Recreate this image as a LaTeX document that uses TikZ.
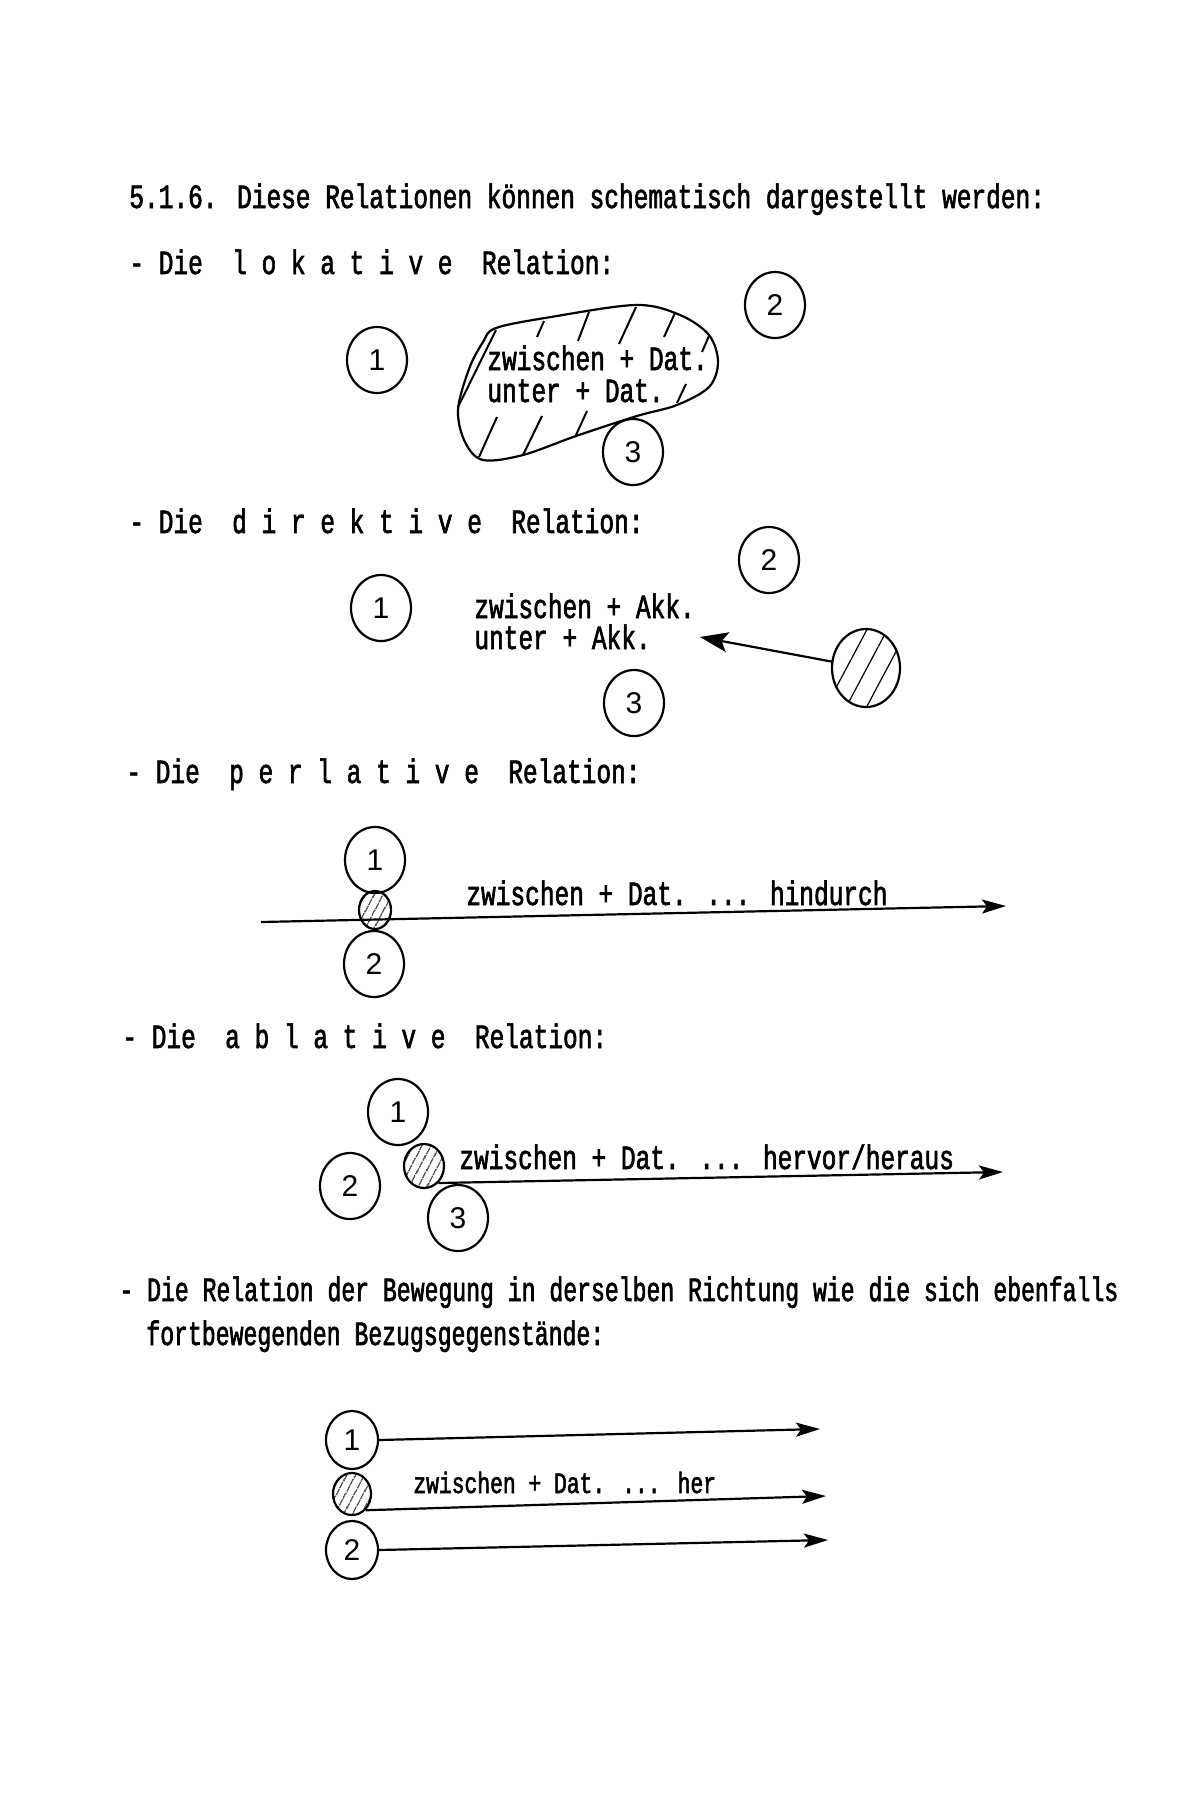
\documentclass[tikz,border=0pt]{standalone}
\usepackage{fontspec}
\setmainfont[FakeStretch=0.72,FakeBold=1.8]{Liberation Mono}
\newfontfamily\narrowtype[FakeStretch=0.68,FakeBold=1.8]{Liberation Mono}
\newfontfamily\handdigits{Liberation Sans}
\usetikzlibrary{shapes.geometric,arrows.meta,patterns.meta}

\tikzset{
  numcircle/.style={ellipse, draw, line width=1.1pt, minimum width=30pt, minimum height=33pt, inner sep=0pt, font=\handdigits\fontsize{15}{15}\selectfont},
  hatchdot/.style={ellipse, draw, line width=1.1pt, inner sep=0pt, pattern={Lines[angle=62,distance=#1,line width=0.6pt]}},
  hatchdot/.default=4.5pt,
  typetext/.style={anchor=base west, inner sep=0pt, font=\fontsize{17}{17}\selectfont},
  movearrow/.style={line width=1.1pt, -{Stealth[length=12pt,width=7pt,inset=2.5pt]}},
  hatchstroke/.style={line width=1pt},
}

\begin{document}
\begin{tikzpicture}[x=0.5pt,y=0.5pt,yscale=-1,xscale=1]
        %Shape: Rectangle (page)
        \fill [white] (0,0) rectangle (1200,1800);

        % Text Node
        \node (title) at (129,208) [typetext] {5.1.6. Diese Relationen können schematisch dargestellt werden:};

        % Text Node
        \node (lokhead) at (129,274) [typetext] {- Die~ l o k a t i v e~ Relation:};
        %Shape: Circle
        \node (lok1) at (377,360) [numcircle] {1};
        \node (lok2) at (775,305) [numcircle] {2};
        \node (lok3) at (633,452) [numcircle] {3};
        %Shape: Free Drawing
        \draw [line width=1.1pt] plot [smooth cycle, tension=0.55] coordinates {(496,328) (551,317) (636,305) (680,315) (709,335) (718,362) (709,387) (677,405) (637,416) (576,436) (523,455) (483,460) (465,442) (458,410) (469,369) (483,342)};
        %Straight Lines
        \foreach \xa/\ya/\xb/\yb in {537/337/544/321, 578/341/589/312, 619/344/636/307, 664/337/675/313, 702/352/709/336, 677/403/686/384, 479/457/497/417, 523/455/542/416, 576/435/587/411, 458/407/496/330}
          \draw [hatchstroke] (\xa,\ya) -- (\xb,\yb);
        % Text Node
        \node (lokzw) at (487,370) [typetext] {zwischen + Dat.};
        \node (lokun) at (487,402) [typetext] {unter + Dat.};

        % Text Node
        \node (dirhead) at (129,533) [typetext] {- Die~ d i r e k t i v e~ Relation:};
        %Shape: Circle
        \node (dir1) at (381,608) [numcircle] {1};
        \node (dir2) at (769,560) [numcircle] {2};
        \node (dir3) at (634,703) [numcircle] {3};
        \node (dirobj) at (866,668) [hatchdot=9pt, minimum width=34pt, minimum height=39pt] {};
        % Text Node
        \node (dirzw) at (474,618) [typetext] {zwischen + Akk.};
        \node (dirun) at (474,649) [typetext] {unter + Akk.};
        %Straight Lines
        \coordinate (dirtip) at (700,637);
        \draw [movearrow, -{Stealth[length=14pt,width=10pt,inset=3pt]}] (dirobj) -- (dirtip);

        % Text Node
        \node (perhead) at (126,783) [typetext] {- Die~ p e r l a t i v e~ Relation:};
        %Straight Lines
        \coordinate (perstart) at (261,922);
        \coordinate (perend) at (1006,906);
        \draw [movearrow] (perstart) -- (perend);
        %Shape: Circle
        \node (per1) at (375,860) [numcircle] {1};
        \node (perobj) at (375,910) [hatchdot=4pt, minimum width=16pt, minimum height=19pt] {};
        \node (per2) at (374,964) [numcircle] {2};
        % Text Node
        \node (pertext) at (466,905) [typetext] {zwischen + Dat. ... hindurch};

        % Text Node
        \node (ablhead) at (122,1048) [typetext] {- Die~ a b l a t i v e~ Relation:};
        %Shape: Circle
        \node (abl1) at (398,1112) [numcircle] {1};
        \node (abl2) at (350,1186) [numcircle] {2};
        \node (ablobj) at (424,1166) [hatchdot=4pt, minimum width=20pt, minimum height=22pt] {};
        \node (abl3) at (458,1218) [numcircle] {3};
        %Straight Lines
        \coordinate (abltip) at (1003,1172);
        \draw [movearrow] (ablobj.-50) -- (abltip);
        % Text Node
        \node (abltext) at (459,1169) [typetext] {zwischen + Dat. ... hervor/heraus};

        % Text Node
        \node (mithead) at (119,1301) [typetext, font=\narrowtype\fontsize{17}{17}\selectfont] {- Die Relation der Bewegung in derselben Richtung wie die sich ebenfalls};
        \node (mitheadb) at (146,1345) [typetext, font=\narrowtype\fontsize{17}{17}\selectfont] {fortbewegenden Bezugsgegenstände:};
        %Shape: Circle
        \node (mit1) at (352,1440) [numcircle, minimum width=26pt, minimum height=29pt] {1};
        \node (mitobj) at (352,1494) [hatchdot=4pt, minimum width=19pt, minimum height=21pt] {};
        \node (mit2) at (352,1550) [numcircle, minimum width=26pt, minimum height=29pt] {2};
        %Straight Lines
        \coordinate (mittip1) at (820,1429);
        \coordinate (mittip2) at (826,1496);
        \coordinate (mittip3) at (828,1540);
        \draw [movearrow] (mit1.east) -- (mittip1);
        \draw [movearrow] (mitobj.-50) -- (mittip2);
        \draw [movearrow] (mit2.east) -- (mittip3);
        % Text Node
        \node (mittext) at (413,1493) [typetext, font=\fontsize{14.8}{15}\selectfont] {zwischen + Dat. ... her};
\end{tikzpicture}
\end{document}
